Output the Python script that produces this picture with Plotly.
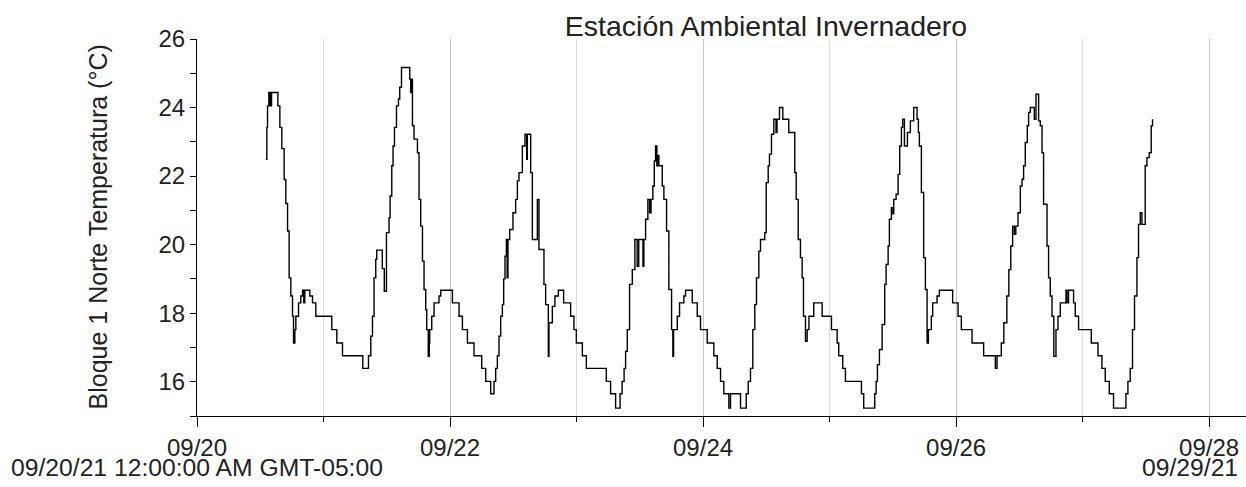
import pandas as pd
import plotly.graph_objects as go

START = "2021-09-20 00:00"

# hours since 09/20 00:00 and temperature (°C), per stretch
hours_1 = [13.06, 13.25, 13.38, 13.63, 13.88, 14.14, 15.34, 15.72, 16.09, 16.53, 16.85, 17.18,
           17.48, 17.80, 18.12, 18.31, 18.56, 18.75, 19.26, 19.70, 20.02, 20.26, 20.45, 21.40,
           21.91, 22.54, 25.57, 26.52, 27.60, 31.45, 32.53, 32.97, 33.29, 33.59, 33.91, 34.10,
           35.15, 35.53, 35.94, 36.43, 36.63, 36.95, 37.19, 37.46, 37.84, 38.22, 38.46, 38.79]
temps_1 = [22.49, 23.42, 24.05, 24.44, 24.05, 24.44, 24.05, 23.42, 22.80, 21.90, 21.20, 20.40,
           19.03, 18.50, 17.91, 17.13, 17.52, 17.91, 18.30, 18.50, 18.67, 18.30, 18.67, 18.50,
           18.30, 17.91, 17.52, 17.13, 16.76, 16.39, 16.76, 17.33, 17.91, 19.03, 19.57, 19.84,
           19.30, 18.64, 20.35, 20.78, 21.42, 22.30, 22.88, 23.42, 24.05, 24.25, 24.59, 25.17]

hours_2 = [40.36, 40.55, 40.68, 40.87, 41.17, 41.82, 42.12, 42.44, 42.77, 43.07, 43.39, 43.58,
           43.87, 44.06, 44.15, 44.53, 44.97, 45.91, 46.24, 48.45, 49.71, 50.35, 51.30, 52.55,
           54.01, 54.77, 55.71, 56.34, 56.66, 56.98, 57.29, 57.61, 57.93, 58.18, 58.43, 58.69,
           58.84, 58.99, 59.32, 59.94, 60.45, 60.78, 61.08, 61.72, 62.22, 62.54, 62.67, 63.30,
           63.62, 64.57, 64.87, 65.82, 66.14, 66.65, 66.77, 67.41, 67.90, 68.55]
temps_2 = [24.83, 24.44, 24.83, 23.47, 23.08, 22.68, 21.32, 20.54, 19.52, 18.69, 18.10, 17.52,
           16.74, 17.13, 17.52, 17.91, 18.30, 18.50, 18.67, 18.30, 17.91, 17.52, 17.13, 16.76,
           16.39, 16.01, 15.65, 16.01, 16.39, 16.76, 17.33, 17.91, 18.25, 19.00, 19.66, 20.15,
           19.03, 20.15, 20.44, 20.93, 21.32, 21.86, 22.10, 22.88, 23.22, 22.49, 23.22, 22.10,
           20.15, 21.32, 19.86, 18.84, 18.25, 16.74, 17.72, 18.20, 18.50, 18.67]

hours_3 = [69.55, 70.88, 71.51, 71.96, 73.10, 73.86, 77.65, 78.46, 79.41, 80.26, 80.64, 81.02,
           81.31, 81.63, 82.06, 82.58, 83.07, 83.50, 83.80, 84.60, 84.77, 85.10,
           85.53, 85.86, 86.14, 86.48, 86.75, 86.99, 87.24, 87.47, 87.62, 88.26, 88.57, 89.08,
           89.51, 90.03, 90.27, 90.41, 91.11, 91.54, 92.36, 92.68, 93.95, 94.90, 95.52]
temps_3 = [18.30, 17.91, 17.52, 17.13, 16.76, 16.39, 16.01, 15.65, 15.23, 15.65, 16.01, 16.39,
           16.89, 17.52, 18.84, 19.27, 20.15, 19.37, 20.15, 19.37, 20.15, 20.74,
           21.32, 20.93, 21.32, 21.71, 22.44, 22.88, 22.30, 22.60, 22.30, 21.71, 21.32, 20.40,
           18.69, 17.52, 16.74, 17.52, 17.91, 18.30, 18.50, 18.67, 18.30, 17.91, 17.52]

hours_4 = [96.79, 98.05, 98.69, 99.32, 99.94, 100.89, 101.21, 103.11, 104.19, 104.57, 105.00,
           105.44, 105.82, 106.14, 106.58, 106.90, 107.71, 107.98, 108.36, 108.60, 108.98,
           109.42, 109.84, 110.03, 110.50, 111.13, 112.26, 113.40, 113.67, 114.05, 114.48,
           114.80, 115.05, 115.43, 115.75, 116.09, 117.00, 118.60, 120.36, 121.44, 121.74,
           122.50, 123.01]
temps_4 = [17.13, 16.76, 16.39, 16.01, 15.65, 15.23, 15.65, 15.23, 15.65, 16.01, 16.39,
           17.52, 18.25, 19.03, 19.81, 20.15, 20.35, 21.81, 22.30, 22.64, 23.22,
           23.66, 23.27, 23.66, 24.00, 23.66, 23.27, 22.10, 21.32, 20.15, 19.62,
           19.03, 17.91, 17.18, 17.52, 17.91, 18.30, 17.91, 17.52, 17.13, 16.76,
           16.39, 16.01]

hours_5 = [126.05, 126.48, 128.57, 128.83, 129.08, 129.46, 129.97, 130.46, 130.73, 131.11,
           131.35, 131.73, 132.02, 132.17, 132.62, 133.00, 133.31, 133.63, 133.87, 134.20,
           134.77, 135.33, 135.96, 136.60, 136.85, 137.04, 137.42, 137.85, 138.18, 138.50,
           138.75, 139.31, 139.56, 140.39, 140.83, 143.35, 144.38, 145.00, 147.03, 149.23,
           151.45, 151.77, 152.58, 153.06, 153.63, 154.01, 154.38, 154.73, 155.05, 155.33,
           155.75, 156.19, 156.51, 156.81, 157.13, 157.51, 157.76, 158.08, 158.84, 159.16,
           159.66, 159.98, 160.30, 160.60, 161.25, 161.55, 161.87, 162.20, 162.54, 162.95,
           163.33, 163.77, 164.85, 165.04, 165.34, 166.29, 166.61, 167.24, 169.65, 170.92,
           171.67, 172.30, 173.06, 173.87, 176.22, 176.60, 177.04, 177.47, 177.85, 178.31,
           178.61, 178.94, 179.26, 179.88, 180.21, 180.64, 181.02, 181.27]
temps_5 = [15.65, 15.23, 15.65, 16.01, 16.50, 16.94, 17.67, 18.84, 19.42, 19.96,
           20.74, 21.08, 20.90, 21.32, 21.47, 22.05, 22.88, 23.42, 23.66, 22.88,
           23.27, 23.61, 24.00, 23.66, 23.27, 22.88, 21.52, 19.62, 18.69, 17.13,
           17.52, 17.91, 18.30, 18.50, 18.67, 18.30, 17.91, 17.52, 17.13, 16.76,
           16.39, 16.76, 17.13, 17.72, 18.50, 19.27, 19.96, 20.54, 20.30, 20.54,
           20.93, 21.71, 21.91, 22.30, 22.98, 23.47, 23.86, 24.00, 23.66, 24.39,
           23.61, 23.47, 22.68, 21.18, 19.96, 19.03, 18.50, 17.91, 16.74, 17.52,
           17.91, 18.30, 18.67, 18.30, 18.67, 18.30, 17.91, 17.52, 17.13, 16.76,
           16.39, 16.01, 15.65, 15.23, 15.65, 16.01, 16.39, 17.52, 18.50, 19.62,
           20.59, 20.93, 20.59, 22.30, 22.54, 22.68, 23.47, 23.66]

TITLE = "Estación Ambiental Invernadero"
Y_TITLE = "Bloque 1 Norte Temperatura (°C)"
START_LABEL = "09/20/21 12:00:00 AM GMT-05:00"
END_LABEL = "09/29/21"

hours = hours_1 + hours_2 + hours_3 + hours_4 + hours_5
temps = temps_1 + temps_2 + temps_3 + temps_4 + temps_5
assert len(hours) == len(temps)
times = pd.to_datetime(START) + pd.to_timedelta(hours, unit="h")

FONT = "Liberation Sans, Arial, sans-serif"
TXT = "#222222"
W, H = 1246, 487
L, R, T, B = 197, 0, 39, 71
PW, PH = W - L - R, H - T - B

fig = go.Figure(go.Scatter(x=times, y=temps, mode="lines",
                           line=dict(color="black", width=1.4, shape="hv"),
                           hoverinfo="skip"))

DAY = 86400000
fig.update_layout(
    width=W, height=H,
    margin=dict(l=L, r=R, t=T, b=B, autoexpand=False),
    paper_bgcolor="white", plot_bgcolor="white",
    showlegend=False,
    font=dict(family=FONT, size=24, color=TXT),
    title=dict(text=TITLE, x=766 / W, xref="container", xanchor="center",
               y=1 - 26 / H, yref="container", yanchor="middle",
               font=dict(size=28.5, color=TXT, family=FONT)),
    xaxis=dict(type="date", range=["2021-09-20 00:00", "2021-09-28 07:00"],
               tick0="2021-09-20", dtick=2 * DAY, tickformat="%m/%d",
               ticks="outside", ticklen=10, tickcolor="black", tickwidth=1,
               showline=True, linecolor="black", linewidth=1,
               showgrid=True, gridcolor="#c4c4c4", gridwidth=1, zeroline=False,
               automargin=False,
               tickfont=dict(size=24, color=TXT, family=FONT),
               minor=dict(dtick=DAY, tick0="2021-09-20", ticks="outside", ticklen=5,
                          tickcolor="black", tickwidth=1, showgrid=True,
                          gridcolor="#dcdcdc", gridwidth=1)),
    yaxis=dict(range=[15, 26], tick0=16, dtick=2,
               ticks="outside", ticklen=6, tickcolor="black", tickwidth=1,
               showline=True, linecolor="black", linewidth=1,
               showgrid=False, zeroline=False, automargin=False,
               tickfont=dict(size=24, color=TXT, family=FONT),
               minor=dict(dtick=1, tick0=15, ticks="outside", ticklen=6,
                          tickcolor="black", tickwidth=1, showgrid=False)),
    annotations=[
        dict(text=Y_TITLE, textangle=-90, showarrow=False,
             xref="paper", x=(97 - L) / PW, xanchor="center",
             yref="paper", y=0.5, yanchor="middle",
             font=dict(size=25, color=TXT, family=FONT)),
        dict(text=START_LABEL, showarrow=False,
             xref="paper", x=(9 - L) / PW, xanchor="left",
             yref="paper", y=-(467 - (T + PH)) / PH, yanchor="middle",
             font=dict(size=24.7, color=TXT, family=FONT)),
        dict(text=END_LABEL, showarrow=False,
             xref="paper", x=(1240 - L) / PW, xanchor="right",
             yref="paper", y=-(467 - (T + PH)) / PH, yanchor="middle",
             font=dict(size=24.7, color=TXT, family=FONT)),
    ],
)

fig.write_html("out.html", config={"displayModeBar": False},
               post_script="document.body.style.margin='0';document.body.style.overflow='hidden';")
